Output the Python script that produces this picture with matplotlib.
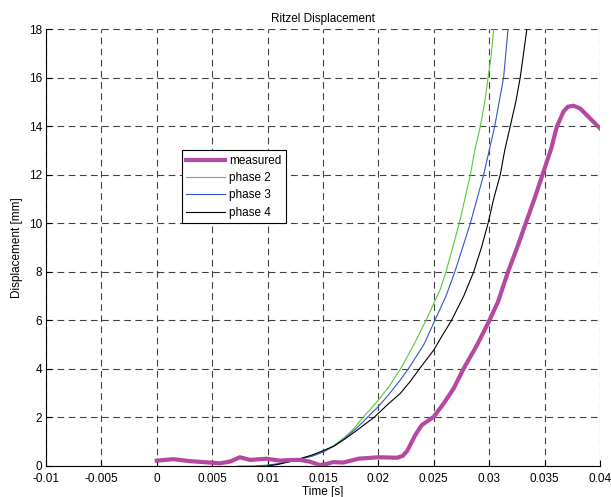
import numpy as np
import matplotlib.pyplot as plt

# values
t_meas = [0.0, 0.0015, 0.0030, 0.0045, 0.0057, 0.0066, 0.0075, 0.0084, 0.0099, 0.0111,
          0.0122, 0.0129, 0.0138, 0.0147, 0.0153, 0.0159, 0.0168, 0.0182, 0.0200, 0.0217,
          0.0222, 0.0226, 0.0233, 0.0239, 0.0250, 0.0259, 0.0268, 0.0277, 0.0289, 0.0300,
          0.0308, 0.0317, 0.0325, 0.0333, 0.0341, 0.0349, 0.0356, 0.0361, 0.0367, 0.0371,
          0.0376, 0.0382, 0.0391, 0.0400]
d_meas = [0.22, 0.28, 0.20, 0.15, 0.11, 0.18, 0.36, 0.25, 0.30, 0.22,
          0.25, 0.25, 0.18, 0.04, 0.08, 0.16, 0.14, 0.30, 0.36, 0.34,
          0.42, 0.62, 1.25, 1.68, 2.03, 2.58, 3.20, 4.02, 4.98, 5.98,
          6.77, 8.00, 8.97, 10.0, 11.03, 12.12, 13.08, 13.97, 14.60, 14.80,
          14.84, 14.73, 14.32, 13.91]

t_ph2 = [0.0073, 0.0085, 0.0099, 0.0110, 0.0120, 0.0129, 0.0140, 0.0150, 0.0160, 0.0170,
         0.0178, 0.0186, 0.0193, 0.0200, 0.0210, 0.0220, 0.0232, 0.0243, 0.0250, 0.0256,
         0.0261, 0.0267, 0.0273, 0.0278, 0.0283, 0.0287, 0.0292, 0.0296, 0.0299, 0.0302,
         0.0304]
d_ph2 = [0.0, 0.01, 0.03, 0.10, 0.18, 0.28, 0.42, 0.60, 0.85, 1.20,
         1.55, 2.0, 2.35, 2.72, 3.30, 4.0, 5.0, 6.0, 6.7, 7.3,
         8.0, 9.0, 10.0, 11.0, 12.0, 13.0, 14.0, 15.0, 16.0, 17.0,
         18.0]

t_ph3 = [0.0090, 0.0100, 0.0110, 0.0120, 0.0129, 0.0140, 0.0150, 0.0160, 0.0170, 0.0180,
         0.0190, 0.0200, 0.0210, 0.0219, 0.0227, 0.0241, 0.0251, 0.0261, 0.0269, 0.0276,
         0.0283, 0.0289, 0.0295, 0.0300, 0.0305, 0.0309, 0.0313, 0.0315, 0.0317]
d_ph3 = [0.0, 0.03, 0.09, 0.18, 0.28, 0.40, 0.57, 0.82, 1.15, 1.55,
         2.0, 2.45, 2.98, 3.5, 4.0, 5.0, 6.0, 7.0, 8.0, 9.0,
         10.0, 11.0, 12.0, 13.0, 14.0, 15.0, 16.0, 17.0, 18.0]

t_ph4 = [0.0100, 0.0110, 0.0120, 0.0129, 0.0140, 0.0150, 0.0160, 0.0170, 0.0180, 0.0189,
         0.0196, 0.0210, 0.0220, 0.0229, 0.0237, 0.0250, 0.0258, 0.0266, 0.0277, 0.0286,
         0.0293, 0.0299, 0.0304, 0.0310, 0.0314, 0.0319, 0.0324, 0.0328, 0.0331, 0.0334]
d_ph4 = [0.0, 0.07, 0.18, 0.30, 0.45, 0.63, 0.82, 1.12, 1.45, 1.76,
         2.0, 2.6, 3.0, 3.5, 4.0, 4.78, 5.4, 6.0, 7.0, 8.0,
         9.0, 10.0, 11.0, 12.0, 13.0, 14.0, 15.0, 16.0, 17.0, 18.0]

xticks = [-0.01, -0.005, 0, 0.005, 0.01, 0.015, 0.02, 0.025, 0.03, 0.035, 0.04]
xticklabels = ['-0.01', '-0.005', '0', '0.005', '0.01', '0.015', '0.02', '0.025', '0.03', '0.035', '0.04']
yticks = [0, 2, 4, 6, 8, 10, 12, 14, 16, 18]

plt.rcParams['font.family'] = ['Liberation Sans', 'DejaVu Sans']
plt.rcParams['font.size'] = 8.5

fig = plt.figure(figsize=(6.11, 4.97), dpi=100)
ax = fig.add_axes([0.0753, 0.0624, 0.9067, 0.8792])

ax.plot(t_meas, d_meas, color='#b5489f', lw=3.0, label='measured', zorder=5,
        solid_joinstyle='round')
ax.plot(t_ph2, d_ph2, color='#55c83a', lw=0.8, label='phase 2', zorder=4)
ax.plot(t_ph3, d_ph3, color='#3355cc', lw=0.8, label='phase 3', zorder=4)
ax.plot(t_ph4, d_ph4, color='black', lw=0.8, label='phase 4', zorder=4)

ax.set_xlim(-0.01, 0.04)
ax.set_ylim(0, 18)
ax.set_xticks(xticks)
ax.set_xticklabels(xticklabels)
ax.set_yticks(yticks)
ax.grid(True, color='black', linestyle=(0, (6, 4)), lw=0.8, alpha=0.75)
ax.tick_params(direction='in', length=4, width=0.8, labelsize=8.5)
ax.tick_params(axis='x', pad=5)
ax.tick_params(axis='y', pad=3)
for s in ['top', 'right']:
  ax.spines[s].set_visible(False)
for s in ['left', 'bottom']:
  ax.spines[s].set_linewidth(0.8)

ax.set_title('Ritzel Displacement', fontsize=8.5, pad=5)
ax.set_xlabel('Time [s]', fontsize=8.5, labelpad=1)
ax.set_ylabel('Displacement [mm]', fontsize=8.5, labelpad=4)

leg = ax.legend(loc='upper left', bbox_to_anchor=(0.245, 0.723), fontsize=8.5,
                frameon=True, fancybox=False, framealpha=1, edgecolor='black',
                borderpad=0.4, labelspacing=0.45, handlelength=3.3, handletextpad=0.3,
                borderaxespad=0)
leg.get_frame().set_linewidth(0.8)

fig.savefig('out.png', dpi=100)
